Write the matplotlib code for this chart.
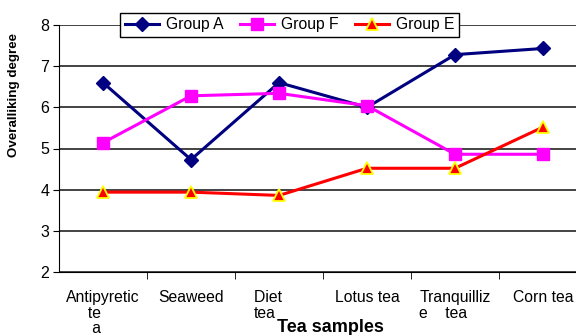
import matplotlib.pyplot as plt
import numpy as np

plt.rcParams['font.family'] = ['Liberation Sans', 'DejaVu Sans']

# du lieu doc tu hinh
samples = ["Antipyretic\n     te\n      a", "Seaweed", "Diet     \ntea", "Lotus tea",
           "Tranquilliz\ne    tea", "Corn tea"]
group_a = [6.6, 4.73, 6.6, 6.0, 7.28, 7.43]
group_f = [5.14, 6.28, 6.34, 6.04, 4.86, 4.86]
group_e = [3.94, 3.94, 3.86, 4.52, 4.52, 5.52]

fig = plt.figure(figsize=(5.76, 3.35), dpi=100)
ax = fig.add_axes([59 / 576, 63 / 335, 528 / 576, 247 / 335])

x = np.arange(len(samples))
ax.plot(x, group_a, color='#000080', lw=2.2, marker='D', ms=7.5, label='Group A', zorder=3)
ax.plot(x, group_f, color='#FF00FF', lw=2.2, marker='s', ms=9, label='Group F', zorder=3)
ax.plot(x, group_e, color='#FF0000', lw=2.2, marker='^', ms=9, mfc='#FF0000',
        mec='#FFFF00', mew=1.3, label='Group E', zorder=3)

ax.set_xlim(-0.5, 5.5)
ax.set_ylim(2, 8)
ax.set_yticks(range(2, 9))
ax.yaxis.grid(True, color='#222222', lw=1.2)
ax.set_axisbelow(True)

ax.set_xticks(x)
ax.set_xticklabels(samples, fontsize=11.3, linespacing=1.05, multialignment='left')
ax.set_xticks(np.arange(0.5, 5.5, 1), minor=True)
ax.tick_params(axis='x', which='major', length=0, pad=13)
ax.tick_params(axis='x', which='minor', length=5, direction='out')
ax.tick_params(axis='y', labelsize=11.5, length=4, direction='out', pad=3)

for s in ['top', 'right']:
    ax.spines[s].set_visible(False)

ax.set_ylabel('Overalliking degree', fontsize=9.6, fontweight='bold')
ax.yaxis.set_label_coords((20 - 59) / 528, 0.717)
ax.set_xlabel('Tea samples', fontsize=13, fontweight='bold')
ax.xaxis.set_label_coords((330 - 59) / 528, -0.19)

leg = ax.legend(loc='center', bbox_to_anchor=(0.4366, 1.0), ncol=3, fontsize=11.3,
                frameon=True, fancybox=False, edgecolor='black', framealpha=1,
                handlelength=2.2, handletextpad=0.4, columnspacing=1.05,
                borderpad=0.3, borderaxespad=0)
leg.get_frame().set_linewidth(1.0)

fig.savefig('out.png', dpi=100)
